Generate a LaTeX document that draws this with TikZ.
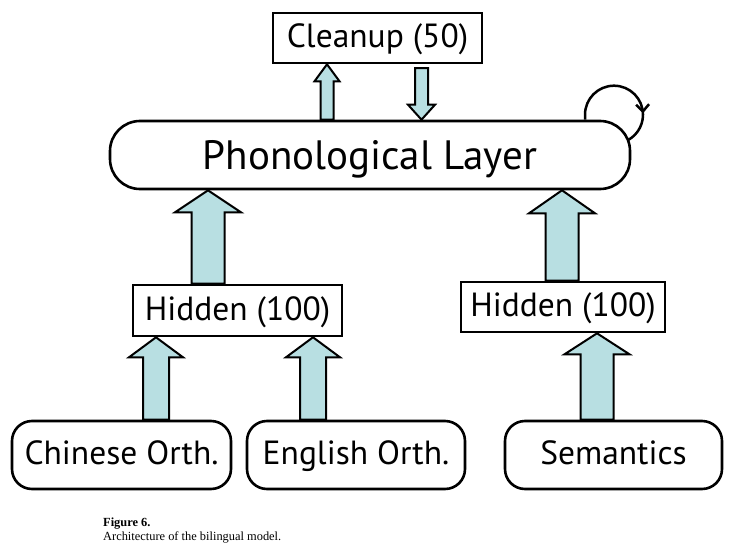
\documentclass[tikz,border=0pt]{standalone}
\usepackage{fontspec}
\setmainfont{PT Sans}
\newfontfamily\capfont{Liberation Serif}
\usetikzlibrary{calc,backgrounds,arrows.meta,decorations.markings}
\definecolor{arrfill}{RGB}{184,223,226}
\tikzset{
  lbl/.style={font=\fontsize{33.5}{38}\selectfont, text height=24pt, text depth=5pt},
  sqbox/.style={draw, line width=2.6pt, fill=white, inner sep=0pt, lbl},
  rbox/.style={sqbox, rounded corners=20pt},
  fat/.style={draw, line width=2pt, fill=arrfill, line join=miter},
  captext/.style={font=\capfont\fontsize{12.4}{14}\selectfont, anchor=base west, inner sep=0pt},
}
\newcommand\uparr[5]{%
  \draw[fat] let \p1=(#1), \p2=(#2) in
    (\x2-#3,\y1) -- (\x2-#3,\y2-#5) -- (\x2-#4,\y2-#5) -- (\x2,\y2)
    -- (\x2+#4,\y2-#5) -- (\x2+#3,\y2-#5) -- (\x2+#3,\y1) -- cycle;}
\newcommand\dnarr[5]{%
  \draw[fat] let \p1=(#1), \p2=(#2) in
    (\x2-#3,\y1) -- (\x2-#3,\y2+#5) -- (\x2-#4,\y2+#5) -- (\x2,\y2)
    -- (\x2+#4,\y2+#5) -- (\x2+#3,\y2+#5) -- (\x2+#3,\y1) -- cycle;}
\begin{document}
\begin{tikzpicture}[x=1pt,y=-1pt]
\useasboundingbox (0,0) rectangle (741,543);
% nodes
\node[sqbox, minimum width=209pt, minimum height=50pt] (cleanup) at (377.5,38) {Cleanup (50)};
\node[sqbox, rounded corners=30pt, minimum width=520pt, minimum height=68pt,
      font=\fontsize{41}{46}\selectfont, text height=29pt, text depth=0pt] (layer) at (370,155) {Phonological Layer};
\node[sqbox, minimum width=209pt, minimum height=51pt] (hidL) at (237.5,310.5) {Hidden (100)};
\node[sqbox, minimum width=204pt, minimum height=50pt] (hidR) at (563,307) {Hidden (100)};
\node[rbox, minimum width=219pt, minimum height=68pt] (chin) at (121.5,455) {Chinese Orth.};
\node[rbox, minimum width=218pt, minimum height=68pt] (eng) at (356,455) {English Orth.};
\node[rbox, minimum width=217pt, minimum height=68pt] (sem) at (613.5,455) {Semantics};
% caption
\node[captext, font=\capfont\bfseries\fontsize{12.4}{14}\selectfont] (figno) at (103,526) {Figure 6.};
\node[captext] (cap) at (103,540) {Architecture of the bilingual model.};
% x positions of connectors
\coordinate (xA) at (208,0);
\coordinate (xB) at (562,0);
\coordinate (xC) at (156,0);
\coordinate (xD) at (313,0);
\coordinate (xE) at (597,0);
\coordinate (xF) at (327,0);
\coordinate (dtop) at (421.5,68);
\coordinate (xL) at (585,0);
% self loop
\begin{scope}[on background layer]
\draw[line width=2.5pt, decoration={markings, mark=at position 0.72 with {\arrow{Straight Barb[length=7pt,width=13pt,line width=2.5pt]}}}, postaction={decorate}]
  (xL |- layer.north) -- ++(0,-5) arc[start angle=180, end angle=-70, radius=29pt];
\end{scope}
% fat arrows
\uparr{xA |- hidL.north}{xA |- layer.south}{16.5pt}{33pt}{22pt}
\uparr{xB |- hidR.north}{xB |- layer.south}{16.5pt}{33pt}{23pt}
\uparr{xC |- chin.north}{xC |- hidL.south}{13pt}{27pt}{20pt}
\uparr{xD |- eng.north}{xD |- hidL.south}{13pt}{27pt}{20pt}
\uparr{xE |- sem.north}{xE |- hidR.south}{16.5pt}{32.5pt}{21pt}
\uparr{xF |- layer.north}{xF |- cleanup.south}{6.5pt}{12.5pt}{17pt}
\dnarr{dtop}{dtop |- layer.north}{6.5pt}{13.5pt}{15pt}
\end{tikzpicture}
\end{document}
